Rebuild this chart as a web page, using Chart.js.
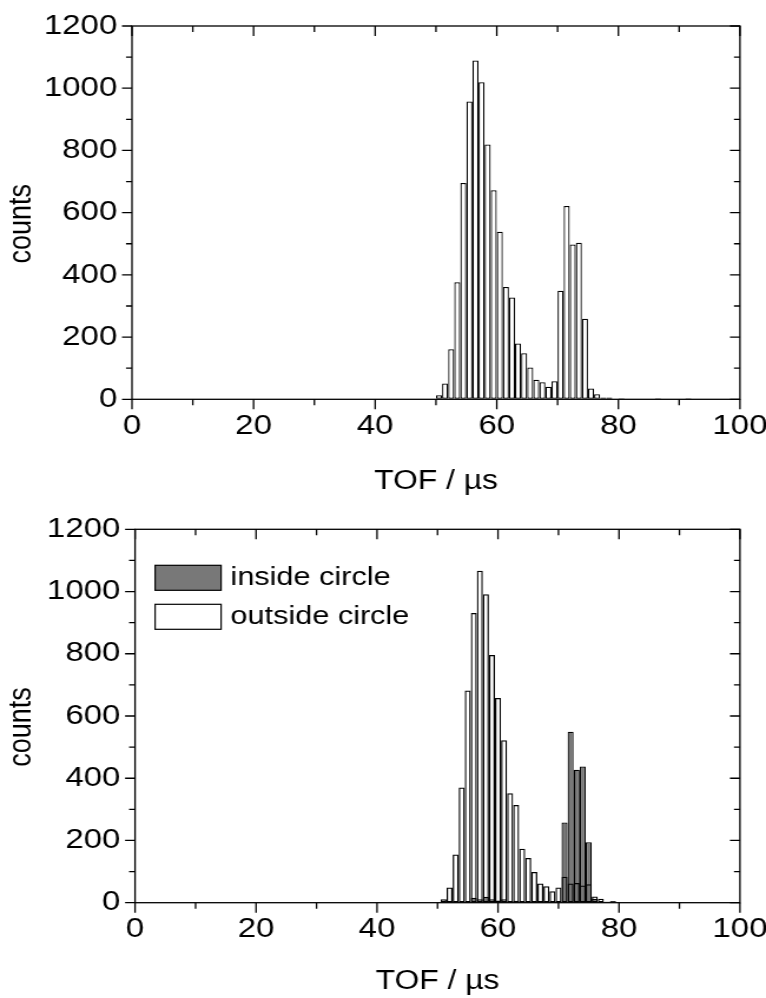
<!DOCTYPE html>
<html lang="en">
<head>
    <meta charset="UTF-8">
    <title>TOF histograms</title>
    <script src="https://cdn.jsdelivr.net/npm/chart.js@4"></script>
    <style>
        html, body { margin: 0; padding: 0; background: #fff; overflow: hidden; }
        /* the original figure is stretched sideways, so the canvases are too */
        .panel { position: absolute; left: 0; width: 650px; height: 499px; transform: scaleX(1.17846); transform-origin: 0 0; }
        #upper { top: 0; }
        #lower { top: 499px; }
    </style>
</head>
<body>
    <div class="panel" id="upper"><canvas id="chartUpper" width="650" height="499"></canvas></div>
    <div class="panel" id="lower"><canvas id="chartLower" width="650" height="499"></canvas></div>
<script>
    // upper panel: 1 µs bins, value = start of the bin
    var binsUpper = [50,51,52,53,54,55,56,57,58,59,60,61,62,63,64,65,66,67,68,69,70,71,72,73,74,75,76,77,78,79,80,86,91]
    var countsUpper = [13,51,161,376,695,957,1089,1019,819,672,539,361,327,179,148,102,63,55,40,58,349,621,498,503,259,35,16,6,6,2,3,3,3]

    // lower panel: 1 µs bins centred on the value
    var binsLower = [51,52,53,54,55,56,57,58,59,60,61,62,63,64,65,66,67,68,69,70,71,72,73,74,75,76,77,78,79,81,87,92]
    var insideCircle = [0,0,1,2,3,16,11,19,11,7,11,5,6,3,2,2,2,2,2,5,258,549,427,438,194,13,3,3,5,2,2,2]
    var outsideCircle = [11,49,155,370,682,931,1067,991,796,658,522,352,314,173,144,99,62,53,37,49,83,62,63,55,59,20,13,3,5,2,2,2]

    var legendLabels = ['inside circle', 'outside circle']
    var xTicks = [0, 20, 40, 60, 80, 100]
    var yTicks = [0, 200, 400, 600, 800, 1000, 1200]
    var xTitle = 'TOF / µs'
    var yTitle = 'counts'

    var stretch = 766 / 650
    var grey = '#787878'
    var fontName = "'Liberation Sans', Arial, sans-serif"

    Chart.defaults.font.family = fontName
    Chart.defaults.font.size = 28
    Chart.defaults.color = '#000'

    // frame + tick marks (outward on bottom/left, inward on top/right) + y title
    var framePlugin = {
        id: 'frame',
        afterDraw(chart) {
            var ctx = chart.ctx
            var a = chart.chartArea
            var sx = chart.scales.x
            var sy = chart.scales.y
            ctx.save()
            ctx.strokeStyle = '#000'
            ctx.lineWidth = 1.3
            ctx.strokeRect(a.left, a.top, a.right - a.left, a.bottom - a.top)
            ctx.beginPath()
            for (var v = 0; v <= 100; v += 10) {
                var px = sx.getPixelForValue(v)
                var len = xTicks.indexOf(v) >= 0 ? 10 : 6
                ctx.moveTo(px, a.bottom); ctx.lineTo(px, a.bottom + len)
                ctx.moveTo(px, a.top); ctx.lineTo(px, a.top + len)
            }
            for (var v = 0; v <= 1200; v += 100) {
                var py = sy.getPixelForValue(v)
                var len = (yTicks.indexOf(v) >= 0 ? 10 : 6) / stretch
                ctx.moveTo(a.left, py); ctx.lineTo(a.left - len, py)
                ctx.moveTo(a.right, py); ctx.lineTo(a.right - len, py)
            }
            ctx.stroke()

            // y axis title, a little below the middle like the original
            ctx.translate(19, (a.top + a.bottom) / 2 + 11)
            ctx.rotate(-Math.PI / 2)
            ctx.font = '27px ' + fontName
            ctx.fillStyle = '#000'
            ctx.textAlign = 'center'
            ctx.textBaseline = 'middle'
            ctx.fillText(yTitle, 0, 0)
            ctx.restore()
        }
    }

    // legend sits inside the plot, top-left
    var legendPlugin = {
        id: 'legendInside',
        afterDraw(chart) {
            var ctx = chart.ctx
            var a = chart.chartArea
            var fills = [grey, '#fff']
            ctx.save()
            ctx.font = '26px ' + fontName
            ctx.textBaseline = 'middle'
            for (var i = 0; i < legendLabels.length; i++) {
                var bx = a.left + 17
                var by = a.top + 36 + i * 39
                ctx.fillStyle = fills[i]
                ctx.fillRect(bx, by, 56, 25)
                ctx.strokeStyle = '#000'
                ctx.lineWidth = 1.2
                ctx.strokeRect(bx, by, 56, 25)
                ctx.fillStyle = '#000'
                ctx.fillText(legendLabels[i], bx + 64, by + 13)
            }
            ctx.restore()
        }
    }

    function barStyle(fill) {
        return {
            backgroundColor: fill,
            borderColor: '#000',
            borderWidth: 1.25,
            borderSkipped: false,
            inflateAmount: 0,
            barPercentage: 1,
            categoryPercentage: 1,
            grouped: false
        }
    }

    function plain(v) { return String(v) }

    function options(box) {
        return {
            responsive: false,
            animation: false,
            layout: { padding: { left: 0, right: box.right, top: box.top, bottom: 0 } },
            plugins: { legend: { display: false }, tooltip: { enabled: false } },
            scales: {
                x: {
                    type: 'linear',
                    min: 0,
                    max: 100,
                    offset: false,
                    grid: { offset: false, drawOnChartArea: false, drawTicks: true, tickLength: 10, tickColor: 'rgba(0,0,0,0)' },
                    border: { display: false },
                    ticks: { stepSize: 20, padding: 0, maxRotation: 0, autoSkip: false, callback: plain },
                    title: { display: true, text: xTitle, font: { size: 27 }, padding: { top: 0, bottom: box.xTitlePad } },
                    afterFit: function (scale) {
                        scale.height = box.xHeight
                        scale.paddingLeft = 0
                        scale.paddingRight = 0
                    }
                },
                y: {
                    min: 0,
                    max: 1200,
                    grid: { drawOnChartArea: false, drawTicks: true, tickLength: 8.5, tickColor: 'rgba(0,0,0,0)' },
                    border: { display: false },
                    ticks: { stepSize: 200, padding: 4, callback: plain },
                    title: { display: false },
                    afterFit: function (scale) {
                        scale.width = box.left
                        scale.paddingTop = 0
                        scale.paddingBottom = 0
                    }
                }
            }
        }
    }

    new Chart(chartUpper, {
        type: 'bar',
        data: {
            datasets: [Object.assign({
                label: 'counts',
                data: binsUpper.map(function (b, i) { return { x: b + 0.5, y: countsUpper[i] } })
            }, barStyle('#fff'))]
        },
        options: options({ left: 112, right: 22.1, top: 26, xHeight: 99.7, xTitlePad: 1.5 }),
        plugins: [framePlugin]
    })

    new Chart(chartLower, {
        type: 'bar',
        data: {
            datasets: [
                // outline only, drawn on top so the grey shows through
                Object.assign({
                    label: legendLabels[1],
                    data: binsLower.map(function (b, i) { return { x: b, y: outsideCircle[i] } })
                }, barStyle('rgba(255,255,255,0)')),
                Object.assign({
                    label: legendLabels[0],
                    data: binsLower.map(function (b, i) { return { x: b, y: insideCircle[i] } })
                }, barStyle(grey))
            ]
        },
        options: options({ left: 114.6, right: 22.1, top: 30.3, xHeight: 95.3, xTitlePad: 0 }),
        plugins: [framePlugin, legendPlugin]
    })
</script>
</body>
</html>
